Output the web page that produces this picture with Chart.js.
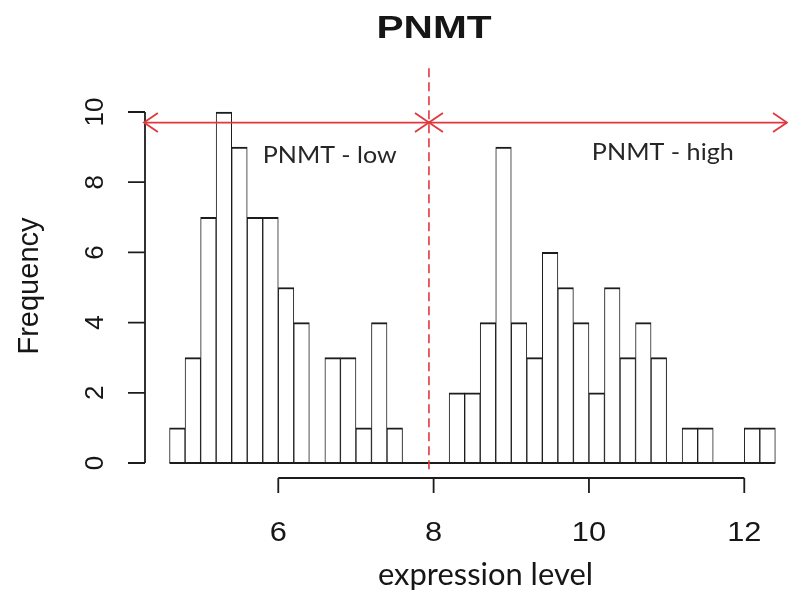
<!DOCTYPE html>
<html>
<head>
<meta charset="utf-8">
<title>PNMT</title>
<script src="https://cdn.jsdelivr.net/npm/chart.js@4.4.1/dist/chart.umd.min.js"></script>
<style>
    html, body { margin: 0; padding: 0; background: #ffffff; }
    #wrap { width: 788px; height: 595px; }
</style>
</head>
<body>
<div id="wrap"><canvas id="hist" width="788" height="595"></canvas></div>
<script>
// PNMT expression histogram (R hist() look)

// bin left edges, width 0.2
const binStarts = [
    4.6, 4.8, 5.0, 5.2, 5.4, 5.6, 5.8, 6.0, 6.2, 6.4, 6.6, 6.8, 7.0, 7.2, 7.4,
    7.6, 7.8, 8.0,
    8.2, 8.4, 8.6, 8.8, 9.0, 9.2, 9.4, 9.6, 9.8, 10.0, 10.2, 10.4, 10.6, 10.8,
    11.0, 11.2, 11.4, 11.6, 11.8, 12.0, 12.2,
];
const binWidth = 0.2;
const counts = [
    1, 3, 7, 10, 9, 7, 7, 5, 4, 0, 3, 3, 1, 4, 1,
    0, 0, 0,
    2, 2, 4, 9, 4, 3, 6, 5, 4, 2, 5, 3, 4, 3,
    0, 1, 1, 0, 0, 1, 1,
];
const xTicks = [6, 8, 10, 12];
const yTicks = [0, 2, 4, 6, 8, 10];

const titleText = 'PNMT';
const xLabel = 'expression level';
const yLabel = 'Frequency';
const groupLabels = ['PNMT - low', 'PNMT - high'];

// cut-off and range arrows (data units)
const cutOff = 7.94;
const arrowY = 9.7;
const arrowLeft = 4.27;
const arrowRight = 12.55;

const colors = {
    ink: '#1c1c1c',
    text: '#161616',
    note: '#262626',
    red: '#e0383c',
};

const FONT_R = "'Liberation Sans', Arial, sans-serif";
const FONT_NOTE = "Lato, 'Open Sans', sans-serif";

// draws text squeezed/stretched to a given width (the source image is stretched horizontally)
function fitText(ctx, text, x, y, font, width) {
    ctx.save();
    ctx.font = font;
    const w = ctx.measureText(text).width;
    ctx.translate(x, y);
    ctx.scale(width / w, 1);
    ctx.textAlign = 'center';
    ctx.textBaseline = 'alphabetic';
    ctx.fillText(text, 0, 0);
    ctx.restore();
}

function stretchText(ctx, text, x, y, font, sx) {
    ctx.save();
    ctx.font = font;
    ctx.translate(x, y);
    ctx.scale(sx, 1);
    ctx.textAlign = 'center';
    ctx.textBaseline = 'alphabetic';
    ctx.fillText(text, 0, 0);
    ctx.restore();
}

function arrowHead(ctx, tipX, tipY, dir) {
    ctx.beginPath();
    ctx.moveTo(tipX - dir * 14, tipY - 9.5);
    ctx.lineTo(tipX, tipY);
    ctx.lineTo(tipX - dir * 14, tipY + 9.5);
    ctx.stroke();
}

const rDecorations = {
    id: 'rDecorations',
    afterDatasetsDraw(chart) {
        const ctx = chart.ctx;
        const xs = chart.scales.x;
        const ys = chart.scales.y;
        const y0 = ys.getPixelForValue(0);

        ctx.save();
        ctx.strokeStyle = colors.ink;
        ctx.lineWidth = 1.8;
        ctx.lineCap = 'butt';

        // baseline under every bin (zero bins too, like R)
        const first = xs.getPixelForValue(binStarts[0]);
        const last = xs.getPixelForValue(binStarts[binStarts.length - 1] + binWidth);
        ctx.beginPath();
        ctx.moveTo(first, y0);
        ctx.lineTo(last, y0);
        ctx.stroke();

        // x axis, offset below the bars
        const axY = y0 + 15;
        ctx.beginPath();
        ctx.moveTo(xs.getPixelForValue(xTicks[0]), axY);
        ctx.lineTo(xs.getPixelForValue(xTicks[xTicks.length - 1]), axY);
        for (const t of xTicks) {
            const px = xs.getPixelForValue(t);
            ctx.moveTo(px, axY);
            ctx.lineTo(px, axY + 15);
        }
        ctx.stroke();

        // y axis, left of the bars
        const axX = 145;
        ctx.beginPath();
        ctx.moveTo(axX, ys.getPixelForValue(yTicks[0]));
        ctx.lineTo(axX, ys.getPixelForValue(yTicks[yTicks.length - 1]));
        for (const t of yTicks) {
            const py = ys.getPixelForValue(t);
            ctx.moveTo(axX, py);
            ctx.lineTo(axX - 17, py);
        }
        ctx.stroke();

        // tick labels
        ctx.fillStyle = colors.text;
        for (const t of xTicks) {
            stretchText(ctx, String(t), xs.getPixelForValue(t), 541, '28px ' + FONT_R, 1.1);
        }
        for (const t of yTicks) {
            ctx.save();
            ctx.translate(103, ys.getPixelForValue(t));
            ctx.rotate(-Math.PI / 2);
            ctx.font = '26px ' + FONT_R;
            ctx.textAlign = 'center';
            ctx.textBaseline = 'alphabetic';
            ctx.fillText(String(t), 0, 0);
            ctx.restore();
        }

        // axis titles and main title
        fitText(ctx, titleText, 434, 38, 'bold 31px ' + FONT_R, 115);
        fitText(ctx, xLabel, 485.5, 585, '31px ' + FONT_NOTE, 215);
        ctx.save();
        ctx.translate(38, 286);
        ctx.rotate(-Math.PI / 2);
        ctx.font = '29px ' + FONT_R;
        ctx.textAlign = 'center';
        ctx.textBaseline = 'alphabetic';
        ctx.fillText(yLabel, 0, 0);
        ctx.restore();

        // cut-off line
        const cx = xs.getPixelForValue(cutOff);
        ctx.strokeStyle = colors.red;
        ctx.lineWidth = 1.6;
        ctx.setLineDash([9, 5]);
        ctx.beginPath();
        ctx.moveTo(cx, ys.getPixelForValue(11.25));
        ctx.lineTo(cx, ys.getPixelForValue(-0.2));
        ctx.stroke();
        ctx.setLineDash([]);

        // range arrows
        const ay = ys.getPixelForValue(arrowY);
        const al = xs.getPixelForValue(arrowLeft);
        const ar = xs.getPixelForValue(arrowRight);
        ctx.lineWidth = 1.8;
        ctx.beginPath();
        ctx.moveTo(al, ay);
        ctx.lineTo(ar, ay);
        ctx.stroke();
        arrowHead(ctx, al, ay, -1);
        arrowHead(ctx, cx, ay, 1);
        arrowHead(ctx, cx, ay, -1);
        arrowHead(ctx, ar, ay, 1);

        // group notes
        ctx.fillStyle = colors.note;
        fitText(ctx, groupLabels[0], 329.7, 163.3, '23px ' + FONT_NOTE, 134);
        fitText(ctx, groupLabels[1], 662.8, 160, '23px ' + FONT_NOTE, 142);

        ctx.restore();
    },
};

new Chart(document.getElementById('hist'), {
    type: 'bar',
    data: {
        datasets: [{
            label: 'PNMT',
            data: binStarts.map((b, i) => ({ x: b + binWidth / 2, y: counts[i] })),
            backgroundColor: '#ffffff',
            borderColor: colors.ink,
            borderWidth: { top: 2, left: 1, right: 1, bottom: 0 },
            borderSkipped: false,
            barPercentage: 1,
            categoryPercentage: 1,
            clip: false,
        }],
    },
    options: {
        responsive: false,
        animation: false,
        layout: { padding: { left: 0, right: 0, top: 112, bottom: 132 } },
        plugins: {
            legend: { display: false },
            tooltip: { enabled: false },
            title: { display: false },
        },
        scales: {
            x: {
                type: 'linear',
                display: false,
                offset: false,
                min: 2.417,
                max: 12.563,
                grid: { display: false },
            },
            y: {
                display: false,
                min: 0,
                max: 10,
                grid: { display: false },
            },
        },
    },
    plugins: [rDecorations],
});
</script>
</body>
</html>
